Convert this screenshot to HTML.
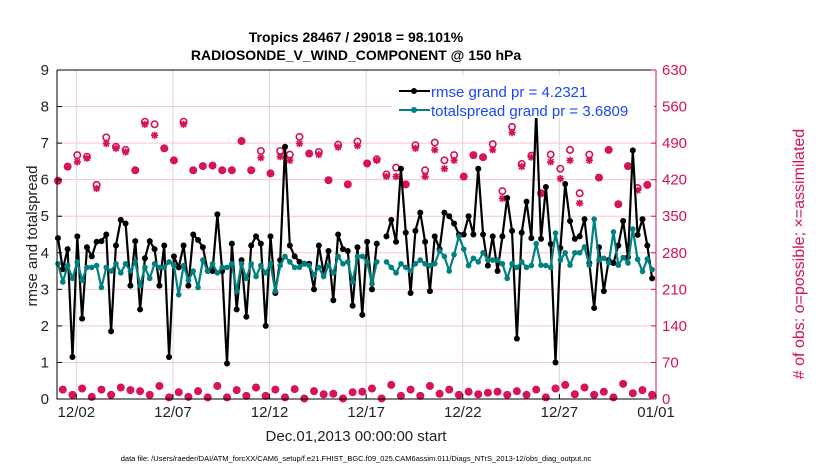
<!DOCTYPE html>
<html><head><meta charset="utf-8"><style>
body{margin:0;background:#fff;}
svg{display:block;font-family:"Liberation Sans",Arial,sans-serif;}
</style></head><body>
<svg id="chart" width="830" height="470" viewBox="0 0 830 470" xmlns="http://www.w3.org/2000/svg">
<rect width="830" height="470" fill="#fff"/>
<g id="grid"></g>
<g id="marks"></g>
<g id="axes"></g>
<text x="356" y="42" font-size="14" font-weight="bold" text-anchor="middle">Tropics 28467 / 29018 = 98.101%</text>
<text x="356" y="60" font-size="14" font-weight="bold" text-anchor="middle">RADIOSONDE_V_WIND_COMPONENT @ 150 hPa</text>
<text x="356" y="441" font-size="15" text-anchor="middle" fill="#222">Dec.01,2013 00:00:00 start</text>
<text transform="translate(37,236) rotate(-90)" font-size="15" text-anchor="middle" fill="#222">rmse and totalspread</text>
<text transform="translate(804,254) rotate(-90)" font-size="16" text-anchor="middle" fill="#d6105a"># of obs: o=possible; ×=assimilated</text>
<text x="356" y="461" font-size="7.5" text-anchor="middle">data file: /Users/raeder/DAI/ATM_forcXX/CAM6_setup/f.e21.FHIST_BGC.f09_025.CAM6assim.011/Diags_NTrS_2013-12/obs_diag_output.nc</text>
<g>
<rect x="392" y="76" width="262" height="42" fill="#fff"/>
<line x1="399" y1="91" x2="430" y2="91" stroke="#000" stroke-width="2"/>
<circle cx="414" cy="91" r="3" fill="#000"/>
<text x="431" y="97" font-size="15" fill="#1a47f5">rmse grand pr = 4.2321</text>
<line x1="399" y1="110" x2="430" y2="110" stroke="#008080" stroke-width="2"/>
<circle cx="414" cy="110" r="3" fill="#008080"/>
<text x="431" y="116" font-size="15" fill="#1a47f5">totalspread grand pr = 3.6809</text>
</g>
</svg>
<script>
const rmse=[4.4,3.55,4.1,1.15,4.45,2.2,4.15,3.9,4.3,4.32,4.5,1.85,4.2,4.9,4.8,3.1,4.32,2.45,3.85,4.32,4.1,3.1,4.2,1.15,3.9,3.6,4.2,3.1,4.5,4.35,4.15,3.5,3.5,5.05,3.5,0.97,4.25,2.45,3.8,2.25,4.2,4.45,4.25,2.0,4.45,2.9,3.8,6.9,4.2,3.9,3.75,3.7,3.7,3.0,4.2,3.45,4.05,2.7,4.5,4.1,4.05,2.55,4.15,2.3,4.3,3.0,4.25,null,4.45,4.9,4.3,6.3,4.55,2.9,4.6,5.1,4.3,2.95,4.45,4.1,5.1,5.0,4.8,4.5,4.5,5.0,4.5,6.3,4.5,3.65,4.45,3.5,4.45,5.5,4.6,1.65,4.55,5.4,4.4,7.85,4.38,5.8,4.24,1.0,4.13,5.88,4.87,4.38,4.45,4.92,3.72,2.49,4.15,2.95,3.8,3.72,4.2,4.87,3.88,6.8,4.49,4.92,4.2,3.3];
const spread=[3.7,3.2,3.65,3.3,3.75,3.25,3.6,3.6,3.65,3.05,3.6,3.5,3.7,3.45,3.7,3.5,3.75,3.1,3.6,3.3,3.7,3.6,3.6,3.75,3.65,2.85,3.65,3.25,3.5,3.05,3.8,3.5,3.7,3.45,3.6,3.6,3.7,2.95,3.7,3.3,3.7,3.35,3.65,3.45,3.7,2.95,3.65,3.9,3.75,3.6,3.6,3.7,3.65,3.4,3.6,3.35,3.65,3.45,3.9,3.7,3.75,3.2,3.9,3.9,3.75,3.15,3.75,null,3.75,3.6,3.45,3.7,3.6,3.5,3.7,3.8,3.7,3.65,3.7,4.05,3.9,3.5,3.95,4.45,4.1,3.65,3.85,3.75,4.0,3.8,3.8,3.8,3.7,3.3,3.7,3.6,3.75,3.6,3.65,4.25,3.66,3.65,3.6,4.54,3.8,4.0,3.66,4.0,4.0,4.16,3.66,4.92,3.8,3.85,3.72,4.57,3.66,3.87,3.72,4.65,3.82,3.49,3.83,3.54];
const possibleSynoptic=[418,445,467,464,410,501,483,477,438,531,526,480,457,531,438,446,447,438,438,494,438,475,432,475,468,502,470,473,419,487,411,493,451,459,430,443,411,486,438,491,457,467,426,467,463,488,398,521,450,466,394,468,441,477,394,468,424,477,373,446,404,410];
const assimSynoptic=[418,445,454,461,403,489,480,473,438,526,505,480,457,526,438,446,447,438,438,494,438,462,432,464,457,489,470,468,419,482,411,485,451,457,426,426,411,480,426,477,441,457,426,467,463,477,384,510,445,463,394,454,422,457,375,457,424,477,373,446,400,410];
const offSynoptic=[18,8,20,4,18,8,22,17,15,8,25,3,13,4,15,3,25,3,17,6,22,6,18,3,19,1,15,9,10,1,13,14,20,1,27,6,18,6,25,10,18,8,14,9,12,14,8,15,8,18,3,20,27,9,22,8,14,3,29,11,17,8];
const xTickDays=[1,6,11,16,21,26,31];
const xTickLabels=["12/02","12/07","12/12","12/17","12/22","12/27","01/01"];
const yLeftTicks=[0,1,2,3,4,5,6,7,8,9];
const yRightTicks=[0,70,140,210,280,350,420,490,560,630];

const NS="http://www.w3.org/2000/svg";
const X0=57,X1=656,Y0=399,Y1=70;
const xS=d=>X0+d/31*(X1-X0);
const yL=v=>Y0-v/9*(Y0-Y1);
const yR=v=>Y0-v/630*(Y0-Y1);
const dayOf=i=>i*0.25+0.05;
function el(tag,attrs,parent){const e=document.createElementNS(NS,tag);for(const k in attrs)e.setAttribute(k,attrs[k]);parent.appendChild(e);return e;}
const grid=document.getElementById('grid'),marks=document.getElementById('marks'),axes=document.getElementById('axes');
const CR="#d6105a";
yLeftTicks.forEach(v=>{if(v>0&&v<9){const l=el('line',{x1:X0,x2:X1,y1:yL(v),y2:yL(v),stroke:"#f3c6d6","stroke-width":1},grid);

}});
xTickDays.forEach(d=>{const l=el('line',{x1:xS(d),x2:xS(d),y1:Y0,y2:Y1,stroke:"#d8d8d8","stroke-width":1},grid);

});
const allPos=[],allAs=[];
for(let k=0;k<62;k++){allPos.push(possibleSynoptic[k]);allAs.push(assimSynoptic[k]);allPos.push(offSynoptic[k]);allAs.push(offSynoptic[k]);}
function star(cx,cy,g){const r=3.6;const p=`M${cx-r},${cy}H${cx+r}M${cx},${cy-r}V${cy+r}M${cx-r*0.75},${cy-r*0.75}L${cx+r*0.75},${cy+r*0.75}M${cx-r*0.75},${cy+r*0.75}L${cx+r*0.75},${cy-r*0.75}`;return el('path',{d:p,stroke:CR,"stroke-width":1.6,fill:"none"},g);}
allPos.forEach((v,i)=>{const x=xS(dayOf(i));
const c=el('circle',{cx:x,cy:yR(v),r:3.2,fill:"none",stroke:CR,"stroke-width":1.6},marks);


const s=star(x,yR(allAs[i]),marks);

});
function series(arr,color,name,r){let d="",pen=false;arr.forEach((v,i)=>{if(v==null){pen=false;return;}d+=(pen?"L":"M")+xS(dayOf(i)).toFixed(1)+","+yL(v).toFixed(1);pen=true;});
const p=el('path',{d:d,stroke:color,"stroke-width":2.2,fill:"none","stroke-linejoin":"round"},marks);


arr.forEach((v,i)=>{if(v==null)return;const c=el('circle',{cx:xS(dayOf(i)),cy:yL(v),r:r,fill:color},marks);

});}
series(rmse,"#000","rmse",3);
series(spread,"#008080","totalspread",2.8);
const ax=[["M"+X0+","+Y1+"V"+Y0+"H"+X1,"#000"],["M"+X0+","+Y1+"H"+X1,"#000"],["M"+X1+","+Y1+"V"+Y0,CR]];
ax.forEach(a=>{const p=el('path',{d:a[0],stroke:a[1],"stroke-width":1,fill:"none"},axes);

});
yLeftTicks.forEach(v=>{el('line',{x1:X0,x2:X0+5,y1:yL(v),y2:yL(v),stroke:"#000"},axes);
const t=el('text',{x:X0-8,y:yL(v)+5,"font-size":15,"text-anchor":"end",fill:"#222"},axes);t.textContent=v;

});
yRightTicks.forEach(v=>{el('line',{x1:X1-5,x2:X1,y1:yR(v),y2:yR(v),stroke:CR},axes);
const t=el('text',{x:X1+6,y:yR(v)+5,"font-size":15,fill:CR},axes);t.textContent=v;

});
xTickDays.forEach((d,k)=>{el('line',{x1:xS(d),x2:xS(d),y1:Y0,y2:Y0-5,stroke:"#000"},axes);
const t=el('text',{x:xS(d),y:Y0+18,"font-size":15,"text-anchor":"middle",fill:"#222"},axes);t.textContent=xTickLabels[k];

});
</script>
</body></html>
